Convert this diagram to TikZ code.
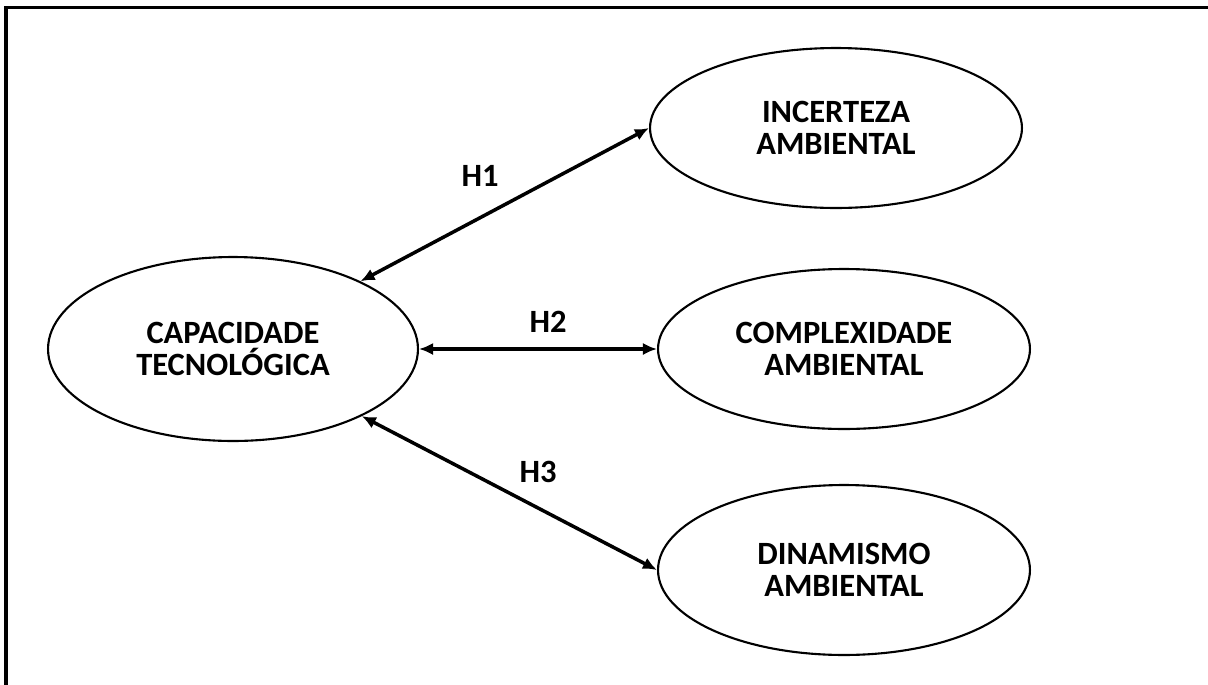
\documentclass[tikz,border=0pt]{standalone}
\usepackage{fontspec}
\setmainfont{Carlito}
\usetikzlibrary{shapes.geometric,arrows.meta}

\begin{document}
\begin{tikzpicture}[x=0.02cm, y=-0.02cm,
    every node/.style={font=\bfseries\fontsize{18.5}{18}\selectfont, align=center},
    construct/.style={draw, ellipse, line width=1.2pt, inner sep=0pt},
    link/.style={{Latex[length=8pt,width=7pt]}-{Latex[length=8pt,width=7pt]}, line width=2pt}]
    % Page and outer frame
    \useasboundingbox (0,0) rectangle (1208,684);
    \clip (0,0) rectangle (1208,684);
    \draw[line width=1.8pt] (6,7.5) rectangle (1230,720);

    % Constructs
    \node (Capacidade) [construct, minimum width=7.4cm, minimum height=3.68cm] at (233,349) {CAPACIDADE\\TECNOLÓGICA};
    \node (Incerteza) [construct, minimum width=7.44cm, minimum height=3.2cm] at (836,128) {INCERTEZA\\AMBIENTAL};
    \node (Complexidade) [construct, minimum width=7.44cm, minimum height=3.2cm] at (844,349) {COMPLEXIDADE\\AMBIENTAL};
    \node (Dinamismo) [construct, minimum width=7.44cm, minimum height=3.4cm] at (844,570) {DINAMISMO\\AMBIENTAL};

    % Hypotheses
    \draw[link] (Capacidade) -- (Incerteza.west);
    \draw[link] (Capacidade.east) -- (Complexidade.west);
    \draw[link] (Capacidade) -- (Dinamismo.west);

    \node (H1) at (480,176) {H1};
    \node (H2) at (548,322) {H2};
    \node (H3) at (538,472) {H3};
\end{tikzpicture}
\end{document}
